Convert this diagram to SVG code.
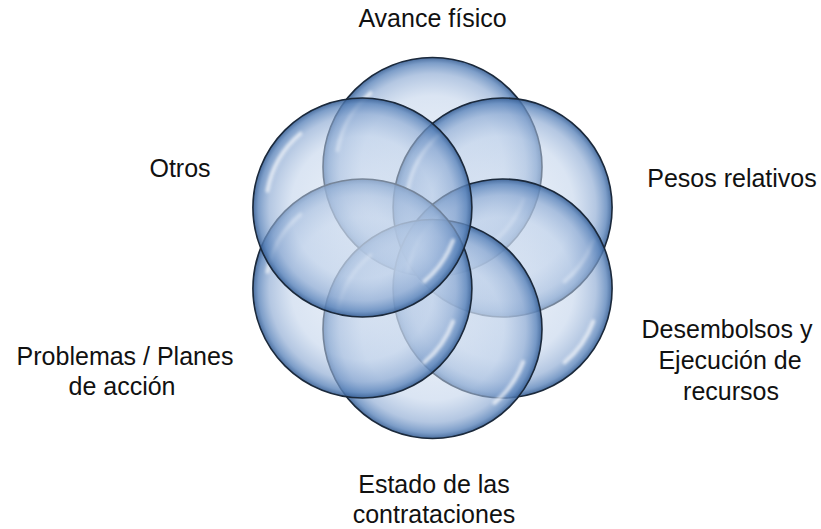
<svg xmlns="http://www.w3.org/2000/svg" width="821" height="529" viewBox="0 0 821 529">
  <style>
    .bubble { fill: url(#bubbleFill); stroke: #1b293b; stroke-width: 1.6; }
    .hl { fill: none; stroke: #ffffff; stroke-width: 4; stroke-linecap: round; opacity: 0.65; filter: url(#soft); }
    .lbl { font-family: "Liberation Sans", Arial, sans-serif; font-size: 25px; fill: #111111; text-anchor: middle; }
  </style>
  <defs>
    <radialGradient id="bubbleFill" cx="0.5" cy="0.5" r="0.5">
      <stop offset="0" stop-color="#d8e3f2" stop-opacity="0.5"/>
      <stop offset="0.65" stop-color="#bccfe9" stop-opacity="0.55"/>
      <stop offset="0.85" stop-color="#8daad3" stop-opacity="0.66"/>
      <stop offset="0.95" stop-color="#5c85bb" stop-opacity="0.8"/>
      <stop offset="1" stop-color="#365e94" stop-opacity="0.9"/>
    </radialGradient>
    <filter id="soft" x="-20%" y="-20%" width="140%" height="140%">
      <feGaussianBlur stdDeviation="1.4"/>
    </filter>
    <path id="hlA" d="M -94.9 -16.7 A 96.4 96.4 0 0 1 -62 -73.8"/>
    <path id="hlB" d="M 90.6 33 A 96.4 96.4 0 0 1 62 73.8"/>
  </defs>

  <g id="node-avance" transform="translate(432.5,167)">
    <circle class="bubble" r="109.5"/>
    <use href="#hlA" class="hl"/><use href="#hlB" class="hl"/>
  </g>
  <g id="node-pesos" transform="translate(502.6,207.5)">
    <circle class="bubble" r="109.5"/>
    <use href="#hlA" class="hl"/><use href="#hlB" class="hl"/>
  </g>
  <g id="node-desembolsos" transform="translate(502.6,288.5)">
    <circle class="bubble" r="109.5"/>
    <use href="#hlA" class="hl"/><use href="#hlB" class="hl"/>
  </g>
  <g id="node-estado" transform="translate(432.5,329)">
    <circle class="bubble" r="109.5"/>
    <use href="#hlA" class="hl"/><use href="#hlB" class="hl"/>
  </g>
  <g id="node-problemas" transform="translate(362.4,288.5)">
    <circle class="bubble" r="109.5"/>
    <use href="#hlA" class="hl"/><use href="#hlB" class="hl"/>
  </g>
  <g id="node-otros" transform="translate(362.4,207.5)">
    <circle class="bubble" r="109.5"/>
    <use href="#hlA" class="hl"/><use href="#hlB" class="hl"/>
  </g>

  <g id="connectors"></g>

  <g id="labels">
    <text class="lbl" x="432.5" y="27">Avance físico</text>
    <text class="lbl" x="180" y="177">Otros</text>
    <text class="lbl" x="732" y="187">Pesos relativos</text>
    <text class="lbl" x="727" y="338">Desembolsos y</text>
    <text class="lbl" x="730" y="369">Ejecución de</text>
    <text class="lbl" x="731" y="400">recursos</text>
    <text class="lbl" x="125" y="365">Problemas / Planes</text>
    <text class="lbl" x="122" y="395">de acción</text>
    <text class="lbl" x="434" y="493">Estado de las</text>
    <text class="lbl" x="434" y="523">contrataciones</text>
  </g>
</svg>
